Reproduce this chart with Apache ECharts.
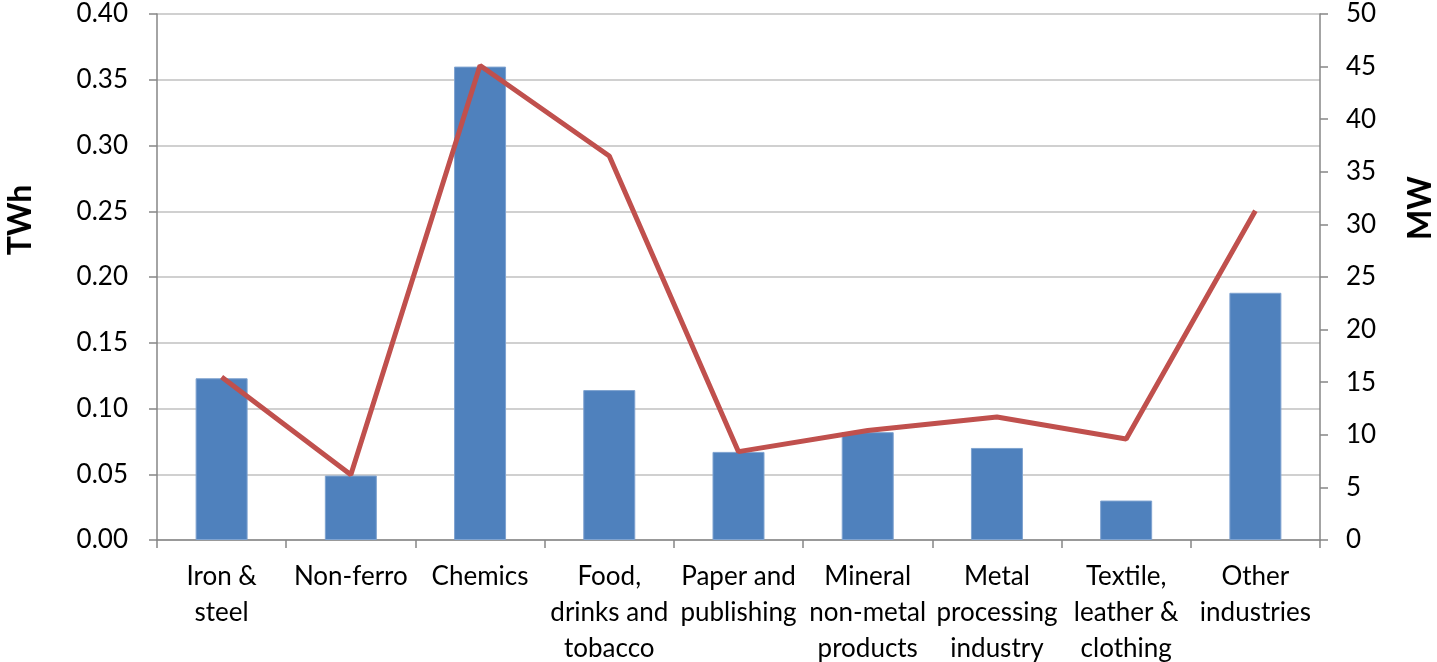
<!DOCTYPE html>
<html><head><meta charset="utf-8">
<script src="https://cdn.jsdelivr.net/npm/echarts@6/dist/echarts.min.js"></script>
<style>html,body{margin:0;padding:0;background:#fff}#c{width:1437px;height:662px}</style>
</head><body><div id="c"></div>
<script>
const categories = ["Iron &\nsteel", "Non-ferro", "Chemics", "Food,\ndrinks and\ntobacco", "Paper and\npublishing", "Mineral\nnon-metal\nproducts", "Metal\nprocessing\nindustry", "Textile,\nleather &\nclothing", "Other\nindustries"];
const twh = [0.123, 0.049, 0.360, 0.114, 0.067, 0.082, 0.070, 0.030, 0.188];
const mw = [15.5, 6.2, 45.1, 36.5, 8.4, 10.4, 11.7, 9.6, 31.3];
const leftTicks = {min: 0, max: 0.4, interval: 0.05};
const rightTicks = {min: 0, max: 50, interval: 5};

const font = 'Lato, "Open Sans", sans-serif';
const axisGrey = '#868686';
const chart = echarts.init(document.getElementById('c'), null, {renderer: 'canvas'});
chart.setOption({
  animation: false,
  grid: {left: 157, right: 117, top: 14, bottom: 122, containLabel: false, outerBoundsMode: 'none'},
  xAxis: {
    type: 'category', data: categories,
    axisLine: {lineStyle: {color: axisGrey, width: 1.5}},
    axisTick: {show: true, alignWithLabel: false, length: 8, lineStyle: {color: axisGrey, width: 1.5}},
    axisLabel: {interval: 0, color: '#000', fontFamily: font, fontSize: 26, lineHeight: 36, margin: 19}
  },
  yAxis: [
    {type: 'value', min: leftTicks.min, max: leftTicks.max, interval: leftTicks.interval, position: 'left',
     axisLine: {show: true, lineStyle: {color: axisGrey, width: 1.5}},
     axisTick: {show: true, length: 8, lineStyle: {color: axisGrey, width: 1.5}},
     splitLine: {show: true, lineStyle: {color: '#c0c0c0', width: 1.5}},
     axisLabel: {color: '#000', fontFamily: font, fontSize: 26, margin: 29, formatter: v => v.toFixed(2)}},
    {type: 'value', min: rightTicks.min, max: rightTicks.max, interval: rightTicks.interval, position: 'right',
     axisLine: {show: true, lineStyle: {color: axisGrey, width: 1.5}},
     axisTick: {show: true, length: 8, lineStyle: {color: axisGrey, width: 1.5}},
     splitLine: {show: false},
     axisLabel: {color: '#000', fontFamily: font, fontSize: 26, margin: 26}}
  ],
  series: [
    {type: 'bar', data: twh, yAxisIndex: 0, barWidth: 52,
     itemStyle: {color: '#4F81BD', borderColor: '#7fa3d0', borderWidth: 1}},
    {type: 'line', data: mw, yAxisIndex: 1, showSymbol: false, symbol: 'none',
     lineStyle: {color: '#C0504D', width: 5}}
  ],
  graphic: [
    {type: 'text', x: 21, y: 220, rotation: Math.PI / 2,
     style: {text: 'TWh', fontFamily: font, fontSize: 32, fontWeight: 'bold', fill: '#000', align: 'center', verticalAlign: 'middle'}},
    {type: 'text', x: 1421, y: 208, rotation: Math.PI / 2,
     style: {text: 'MW', fontFamily: font, fontSize: 32, fontWeight: 'bold', fill: '#000', align: 'center', verticalAlign: 'middle'}}
  ]
});
</script></body></html>
